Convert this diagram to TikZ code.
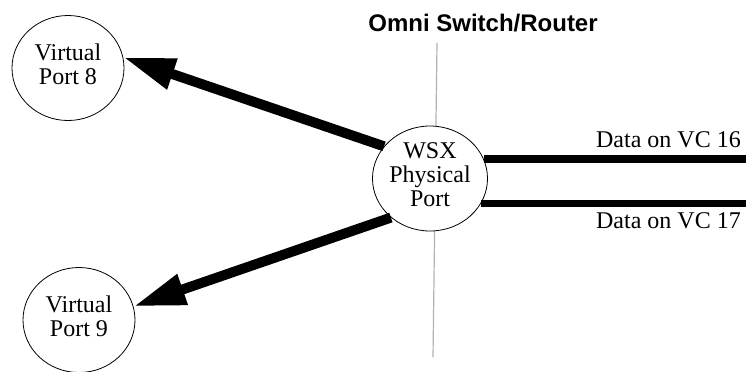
\documentclass[tikz,border=0pt]{standalone}
\usepackage{fontspec}
\setmainfont{Liberation Serif}
\newfontfamily\headfont{Liberation Sans}
\usetikzlibrary{arrows.meta,positioning,calc,shapes.geometric}

\begin{document}
\begin{tikzpicture}[
    x=1bp, y=-1bp,
    font=\fontsize{24bp}{24bp}\selectfont,
    port/.style  = {draw, ellipse, fill=white, line width=0.8bp,
                    minimum width=112bp, minimum height=105bp,
                    inner sep=0pt, align=center, text depth=8bp},
    feed/.style  = {-{Triangle[length=52bp, width=30bp]}, line width=10bp},
    vc/.style    = {line width=7.5bp},
    rule/.style  = {draw=black!30, line width=1.2bp},
    head/.style  = {font=\headfont\bfseries\fontsize{24bp}{24bp}\selectfont,
                    inner sep=0pt},
    lbl/.style   = {inner sep=0pt},
  ]
  \useasboundingbox (0,0) rectangle (746,371);

  \coordinate (rtop) at (437,43);
  \coordinate (rbot) at (433,357);
  \draw[rule] (rtop) -- (rbot);

  \node[head, anchor=base] (omni) at (483,31.5) {Omni Switch/Router};

  \node[port] (wsx) at (430,178.5) {WSX\\Physical\\Port};
  \node[port] (vp8) at (68,68) {Virtual\\Port 8};
  \node[port] (vp9) at (79,320) {Virtual\\Port 9};

  \draw[feed] (wsx.145) -- (vp8.11);
  \draw[feed] (wsx.225) -- (vp9.14);

  \coordinate (rim) at (746,0);
  \draw[vc] (wsx.20) -- (wsx.20 -| rim);
  \draw[vc] (wsx.-26) -- (wsx.-26 -| rim);

  \node[lbl, anchor=base east] (vc16) at (741,147) {Data on VC 16};
  \node[lbl, anchor=base east] (vc17) at (741,228) {Data on VC 17};
\end{tikzpicture}
\end{document}
